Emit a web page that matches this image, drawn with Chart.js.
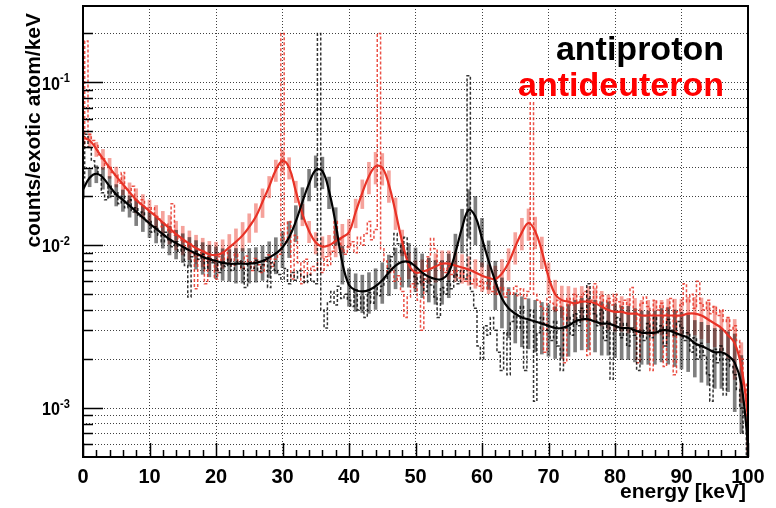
<!DOCTYPE html>
<html>
<head>
<meta charset="utf-8">
<script src="https://cdn.jsdelivr.net/npm/chart.js@4.4.1/dist/chart.umd.min.js"></script>
<style>
  html, body { margin: 0; padding: 0; background: #fff; }
  canvas { display: block; }
</style>
</head>
<body>
<canvas id="spectrum" width="776" height="508"></canvas>
<script>
// Energy grids (keV): smeared curves every 1 keV, raw spectra every 0.5 keV
const SMOOTH_STEP = 1;
const RAW_STEP = 0.5;

// Smeared spectra (counts/exotic atom/keV), E = 0..100 keV
const antiprotonSmooth = [
  0.022, 0.026, 0.0275, 0.026, 0.023, 0.0205, 0.019, 0.0175, 0.0161, 0.0148,
  0.0136, 0.0126, 0.0117, 0.0109, 0.0103, 0.0098, 0.0093, 0.0089, 0.0085, 0.0082,
  0.0080, 0.0078, 0.0077, 0.0077, 0.0077, 0.0077, 0.0078, 0.0080, 0.0084, 0.0089,
  0.0097, 0.0112, 0.0140, 0.0185, 0.0240, 0.0290, 0.0285, 0.0215, 0.0135, 0.0078,
  0.0057, 0.0053, 0.0052, 0.0053, 0.0056, 0.0061, 0.0068, 0.0075, 0.0079, 0.0079,
  0.0074, 0.0068, 0.0064, 0.0062, 0.0062, 0.0068, 0.0090, 0.0128, 0.0165, 0.0150,
  0.0110, 0.0080, 0.0060, 0.0047, 0.0041, 0.0038, 0.0036, 0.0035, 0.0034, 0.0033,
  0.0032, 0.0031, 0.0031, 0.0032, 0.0034, 0.0035, 0.0035, 0.0034, 0.0033, 0.0033,
  0.0032, 0.0031, 0.0031, 0.0030, 0.0029, 0.0029, 0.0029, 0.0030, 0.0030, 0.0029,
  0.0028, 0.0027, 0.0025, 0.0024, 0.0023, 0.0022, 0.0022, 0.0021, 0.0019, 0.0014,
  0.0006
];
const antideuteronSmooth = [
  0.046, 0.044, 0.039, 0.034, 0.030, 0.0265, 0.0237, 0.0212, 0.0190, 0.0175,
  0.0162, 0.0150, 0.0138, 0.0127, 0.0117, 0.0109, 0.0102, 0.0096, 0.0092, 0.0088,
  0.0087, 0.0090, 0.0097, 0.0105, 0.0115, 0.0130, 0.0150, 0.0185, 0.0230, 0.0290,
  0.0330, 0.0300, 0.0215, 0.0155, 0.0122, 0.0104, 0.0098, 0.0100, 0.0106, 0.0112,
  0.0120, 0.0160, 0.0210, 0.0265, 0.0305, 0.0300, 0.0235, 0.0160, 0.0105, 0.0076,
  0.0068, 0.0069, 0.0071, 0.0074, 0.0077, 0.0077, 0.0075, 0.0073, 0.0071, 0.0068,
  0.0065, 0.0063, 0.0062, 0.0067, 0.0078, 0.0098, 0.0120, 0.0137, 0.0122, 0.0092,
  0.0064, 0.0050, 0.0046, 0.0045, 0.0044, 0.0045, 0.0045, 0.0044, 0.0042, 0.0040,
  0.0039, 0.0039, 0.0038, 0.0038, 0.0037, 0.0037, 0.0037, 0.0037, 0.0037, 0.0037,
  0.0037, 0.0038, 0.0038, 0.0037, 0.0035, 0.0033, 0.0031, 0.0028, 0.0025, 0.0018,
  0.0009
];

// Relative error bar half-widths, one per 5 keV band (0, 5, ..., 100 keV)
const antiprotonRelErr = [0.12, 0.15, 0.18, 0.2, 0.22, 0.24, 0.25, 0.22, 0.26, 0.28, 0.3,
  0.3, 0.33, 0.34, 0.35, 0.35, 0.36, 0.36, 0.38, 0.4, 0.5];
const antideuteronRelErr = [0.1, 0.14, 0.17, 0.2, 0.2, 0.2, 0.15, 0.15, 0.2, 0.22, 0.18,
  0.2, 0.2, 0.22, 0.22, 0.24, 0.24, 0.24, 0.26, 0.28, 0.4];

// Raw (unsmeared) spectra, E = 0..100 keV in 0.5 keV bins
const antiprotonRaw = [
  0.026, 0.048, 0.040, 0.033, 0.030, 0.027, 0.021, 0.019, 0.023, 0.020,
  0.021, 0.018, 0.020, 0.017, 0.019, 0.016, 0.017, 0.015, 0.016, 0.014,
  0.014, 0.012, 0.013, 0.0115, 0.0105, 0.012, 0.0108, 0.0098, 0.0105, 0.0092,
  0.0098, 0.0075, 0.0048, 0.0085, 0.0092, 0.0082, 0.0088, 0.0072, 0.0084, 0.0078,
  0.0080, 0.0068, 0.0079, 0.0074, 0.0082, 0.0070, 0.0076, 0.0080, 0.0072, 0.0055,
  0.0078, 0.0072, 0.0081, 0.0069, 0.0076, 0.0084, 0.0055, 0.0078, 0.0070, 0.0066,
  0.0062, 0.0072, 0.0058, 0.0068, 0.0061, 0.0070, 0.0064, 0.0059, 0.0066, 0.0060,
  0.0058, 0.20, 0.0040, 0.0031, 0.0045, 0.0052, 0.0043, 0.0056, 0.0047, 0.0050,
  0.0046, 0.0042, 0.0053, 0.0040, 0.0048, 0.0036, 0.0051, 0.0044, 0.0055, 0.0049,
  0.0056, 0.0062, 0.0072, 0.0085, 0.0118, 0.0102, 0.0090, 0.0112, 0.0078, 0.0070,
  0.0064, 0.0058, 0.0068, 0.0052, 0.0061, 0.0057, 0.0048, 0.0036, 0.0055, 0.0050,
  0.0060, 0.0054, 0.0066, 0.0058, 0.0070, 0.0062, 0.11, 0.0052, 0.0041, 0.0024,
  0.0020, 0.0032, 0.0028, 0.0036, 0.0030, 0.0022, 0.0017, 0.0029, 0.0016, 0.0034,
  0.0038, 0.0031, 0.0042, 0.0017, 0.0035, 0.0040, 0.0011, 0.0029, 0.0036, 0.0033,
  0.0030, 0.0026, 0.0034, 0.0024, 0.0017, 0.0031, 0.0036, 0.0028, 0.0038, 0.0032,
  0.0041, 0.0036, 0.0058, 0.0044, 0.0038, 0.0032, 0.0040, 0.0026, 0.0034, 0.0015,
  0.0030, 0.0036, 0.0027, 0.0033, 0.0024, 0.0031, 0.0028, 0.0017, 0.0030, 0.0026,
  0.0033, 0.0027, 0.0036, 0.0029, 0.0032, 0.0024, 0.0035, 0.0030, 0.0028, 0.0034,
  0.0031, 0.0026, 0.0029, 0.0022, 0.0027, 0.0020, 0.0025, 0.0021, 0.0016, 0.0011,
  0.0023, 0.0019, 0.0024, 0.0012, 0.0020, 0.0018, 0.0016, 0.0013, 0.0010, 0.0007,
  0.0005
];
const antideuteronRaw = [
  0.040, 0.18, 0.048, 0.044, 0.041, 0.036, 0.034, 0.031, 0.030, 0.028,
  0.027, 0.024, 0.028, 0.022, 0.021, 0.023, 0.019, 0.018, 0.019, 0.017,
  0.016, 0.017, 0.015, 0.0145, 0.013, 0.0135, 0.012, 0.018, 0.0115, 0.011,
  0.0105, 0.0098, 0.0102, 0.0090, 0.0054, 0.0088, 0.0092, 0.0058, 0.0085, 0.0080,
  0.0062, 0.0085, 0.0078, 0.0090, 0.0082, 0.0075, 0.0088, 0.0080, 0.0072, 0.0086,
  0.0079, 0.0070, 0.0083, 0.0076, 0.0068, 0.0080, 0.0087, 0.0074, 0.0082, 0.0088,
  0.20, 0.0105, 0.0140, 0.0062, 0.0115, 0.0078, 0.0058, 0.0082, 0.0066, 0.0074,
  0.0070, 0.0078, 0.0068, 0.0085, 0.0075, 0.0092, 0.0140, 0.0110, 0.0095, 0.0088,
  0.0098, 0.0105, 0.0090, 0.0112, 0.0100, 0.0118, 0.0140, 0.0108, 0.0125, 0.20,
  0.0095, 0.0080, 0.0068, 0.0072, 0.0060, 0.0065, 0.0052, 0.0036, 0.0048, 0.0058,
  0.0055, 0.0046, 0.0030, 0.0062, 0.0085, 0.0110, 0.0095, 0.0078, 0.0072, 0.0068,
  0.0074, 0.0066, 0.0070, 0.0063, 0.0068, 0.0060, 0.0065, 0.0058, 0.0062, 0.0056,
  0.0060, 0.0054, 0.0059, 0.0052, 0.0057, 0.0050, 0.0055, 0.0048, 0.0053, 0.0050,
  0.0056, 0.0049, 0.0054, 0.0047, 0.0052, 0.075, 0.0050, 0.0046, 0.0042, 0.0022,
  0.0048, 0.0044, 0.0040, 0.0046, 0.0042, 0.0019, 0.0047, 0.0043, 0.0050, 0.0045,
  0.0048, 0.0052, 0.0021, 0.0046, 0.0058, 0.0044, 0.0049, 0.0042, 0.0047, 0.0043,
  0.0050, 0.0045, 0.0041, 0.0046, 0.0043, 0.0055, 0.0040, 0.0019, 0.0044, 0.0048,
  0.0042, 0.0017, 0.0046, 0.0040, 0.0044, 0.0018, 0.0041, 0.0047, 0.0016, 0.0039,
  0.0043, 0.0058, 0.0045, 0.0050, 0.0041, 0.0060, 0.0044, 0.0040, 0.0046, 0.0038,
  0.0042, 0.0037, 0.0040, 0.0034, 0.0036, 0.0030, 0.0032, 0.0026, 0.0020, 0.0014,
  0.0008
];

// Axis ticks
const xTickStep = 10;
const yGridValues = [
  0.0006, 0.0007, 0.0008, 0.0009,
  0.001, 0.002, 0.003, 0.004, 0.005, 0.006, 0.007, 0.008, 0.009,
  0.01, 0.02, 0.03, 0.04, 0.05, 0.06, 0.07, 0.08, 0.09,
  0.1, 0.2
];
const yDecades = [0.001, 0.01, 0.1];
const yDecadeExponents = ['-3', '-2', '-1'];

const BLACK = '#000000';
const RED = 'rgb(232, 50, 38)';
const FONT = '"Liberation Sans", Arial, Helvetica, sans-serif';

function points(values, step) {
    return values.map((v, i) => ({ x: i * step, y: v }));
}

function errorBars(values, relErr, step) {
    return values.map((v, i) => {
        const e = relErr[Math.round(i * step / 5)];
        return { x: i * step, y: [v * (1 - e), v * (1 + e)] };
    });
}

// Inner ticks, frame, y labels with exponents, titles and the text legend
const rootStyle = {
    id: 'rootStyle',
    afterDraw(chart) {
        const { ctx, chartArea: a, scales: { x, y } } = chart;
        ctx.save();
        ctx.strokeStyle = '#000';
        ctx.lineWidth = 1.5;
        ctx.beginPath();
        for (let v = 0; v <= 100; v += 2) {
            const px = Math.round(x.getPixelForValue(v)) + 0.5;
            const len = v % xTickStep === 0 ? 14 : 7;
            ctx.moveTo(px, a.bottom);
            ctx.lineTo(px, a.bottom - len);
        }
        yGridValues.forEach(v => {
            const py = Math.round(y.getPixelForValue(v)) + 0.5;
            const len = yDecades.includes(v) ? 20 : 10;
            ctx.moveTo(a.left, py);
            ctx.lineTo(a.left + len, py);
        });
        ctx.stroke();

        ctx.lineWidth = 2;
        ctx.strokeRect(a.left, a.top, a.right - a.left, a.bottom - a.top);

        // y labels: 10^n, slightly condensed like the original
        ctx.fillStyle = '#000';
        yDecades.forEach((v, i) => {
            const py = y.getPixelForValue(v);
            ctx.save();
            ctx.translate(60, py);
            ctx.scale(0.85, 1);
            ctx.textAlign = 'left';
            ctx.textBaseline = 'alphabetic';
            ctx.font = 'bold 13px ' + FONT;
            ctx.fillText(yDecadeExponents[i], 0, 0);
            ctx.textAlign = 'right';
            ctx.textBaseline = 'middle';
            ctx.font = 'bold 19px ' + FONT;
            ctx.fillText('10', 0, 2);
            ctx.restore();
        });

        // axis titles
        ctx.font = 'bold 21px ' + FONT;
        ctx.textAlign = 'right';
        ctx.textBaseline = 'alphabetic';
        ctx.fillText('energy [keV]', 746, 498);
        ctx.save();
        ctx.translate(40, 13);
        ctx.rotate(-Math.PI / 2);
        ctx.fillText('counts/exotic atom/keV', 0, 0);
        ctx.restore();

        // legend text
        ctx.font = 'bold 34px ' + FONT;
        ctx.fillStyle = '#000';
        ctx.fillText('antiproton', 724, 60);
        ctx.fillStyle = '#ff0000';
        ctx.fillText('antideuteron', 724, 96);
        ctx.restore();
    }
};

const ctx = document.getElementById('spectrum').getContext('2d');
new Chart(ctx, {
    type: 'line',
    data: {
        datasets: [
            {
                type: 'bar', label: 'antideuteron errors',
                data: errorBars(antideuteronSmooth, antideuteronRelErr, SMOOTH_STEP),
                backgroundColor: 'rgba(236, 70, 55, 0.5)',
                barThickness: 3, grouped: false, order: 6
            },
            {
                type: 'bar', label: 'antiproton errors',
                data: errorBars(antiprotonSmooth, antiprotonRelErr, SMOOTH_STEP),
                backgroundColor: 'rgba(0, 0, 0, 0.5)',
                barThickness: 3, grouped: false, order: 5
            },
            {
                label: 'antideuteron raw',
                data: points(antideuteronRaw, RAW_STEP),
                borderColor: 'rgba(232, 50, 38, 0.85)',
                borderWidth: 1.5, borderDash: [3, 2],
                stepped: 'middle', pointRadius: 0, order: 4
            },
            {
                label: 'antiproton raw',
                data: points(antiprotonRaw, RAW_STEP),
                borderColor: 'rgba(0, 0, 0, 0.8)',
                borderWidth: 1.5, borderDash: [3, 2],
                stepped: 'middle', pointRadius: 0, order: 3
            },
            {
                label: 'antideuteron',
                data: points(antideuteronSmooth, SMOOTH_STEP),
                borderColor: RED, borderWidth: 2.2,
                tension: 0.4, pointRadius: 0, order: 2
            },
            {
                label: 'antiproton',
                data: points(antiprotonSmooth, SMOOTH_STEP),
                borderColor: BLACK, borderWidth: 2.2,
                tension: 0.4, pointRadius: 0, order: 1
            }
        ]
    },
    options: {
        responsive: false,
        animation: false,
        devicePixelRatio: 1,
        layout: { padding: { top: 6, right: 28, left: 0, bottom: 0 } },
        plugins: { legend: { display: false }, tooltip: { enabled: false } },
        scales: {
            x: {
                type: 'linear', min: 0, max: 100, offset: false,
                grid: { color: 'rgba(0,0,0,0.75)', lineWidth: 1, drawTicks: false, offset: false },
                border: { display: false, dash: [1, 2] },
                ticks: {
                    stepSize: xTickStep, padding: 8, color: '#000',
                    font: { family: FONT, size: 20, weight: 'bold' }
                },
                afterFit: s => { s.height = 51; }
            },
            y: {
                type: 'logarithmic', min: 0.0005, max: 0.295,
                grid: { color: 'rgba(0,0,0,0.75)', lineWidth: 1, drawTicks: false },
                border: { display: false, dash: [1, 2] },
                ticks: { display: false },
                afterBuildTicks: s => { s.ticks = yGridValues.map(v => ({ value: v })); },
                afterFit: s => { s.width = 83; }
            }
        }
    },
    plugins: [rootStyle]
});
</script>
</body>
</html>
